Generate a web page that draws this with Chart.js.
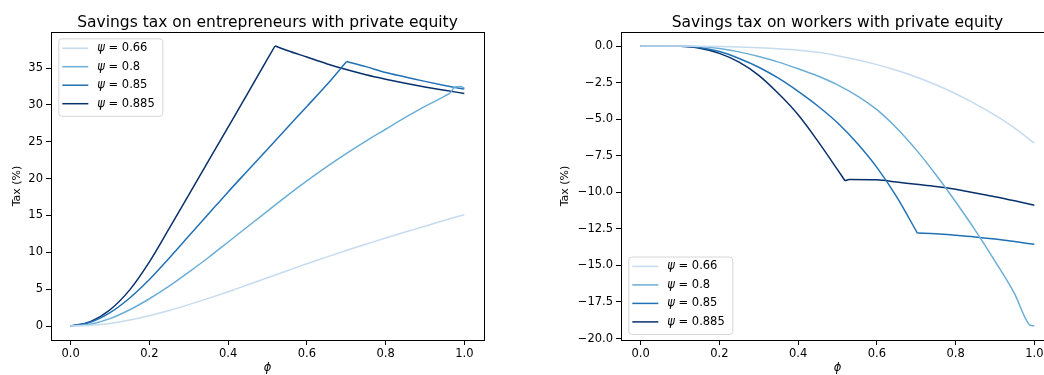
<!DOCTYPE html>
<html><head><meta charset="utf-8">
<script src="https://cdn.jsdelivr.net/npm/chart.js@4.4.0/dist/chart.umd.min.js"></script>
<style>
html,body{margin:0;padding:0;background:#fff;overflow:hidden;width:1044px;height:375px;position:relative;}
canvas{position:absolute;top:0;}
#c1{left:0px} #c2{left:540px}
</style></head><body>
<canvas id="c1" width="522" height="375"></canvas>
<canvas id="c2" width="552" height="375"></canvas>
<script>
// ---- data ----
const PSI = ['0.66', '0.8', '0.85', '0.885'];
const COLORS = ['#c6dbef', '#6baed6', '#2171b5', '#08306b'];
const X_TICKS = [0, 0.2, 0.4, 0.6, 0.8, 1.0];
const Y_TICKS_E = [0, 5, 10, 15, 20, 25, 30, 35];
const Y_TICKS_W = [0, -2.5, -5, -7.5, -10, -12.5, -15, -17.5, -20];
// phi where each series switches regime (null = no switch)
const E_KINK = [null, null, 0.701, 0.519];
const W_KINK = [null, null, 0.703, 0.519];

// entrepreneurs
const E_PHI_066 = [0,0.05,0.1,0.15,0.2,0.25,0.3,0.35,0.4,0.45,0.5,0.55,0.6,0.65,0.7,0.75,0.8,0.85,0.9,0.95,1.0];
const E_TAX_066 = [0,0.1,0.35,0.8,1.4,2.1,2.9,3.75,4.65,5.6,6.55,7.5,8.45,9.35,10.25,11.1,11.95,12.75,13.55,14.35,15.1];
const E_PHI_080 = [0,0.05,0.1,0.15,0.2,0.25,0.3,0.35,0.4,0.45,0.5,0.55,0.6,0.65,0.7,0.75,0.8,0.85,0.9,0.95,0.965,0.975,0.99,1.0];
const E_TAX_080 = [0,0.25,1.0,2.2,3.7,5.4,7.3,9.3,11.4,13.5,15.6,17.7,19.7,21.6,23.4,25.1,26.7,28.3,29.8,31.2,31.7,32.4,32.5,32.3];
const E_PHI_085 = [0,0.05,0.1,0.15,0.2,0.25,0.3,0.35,0.4,0.45,0.5,0.55,0.6,0.65,0.701,0.75,0.8,0.85,0.9,0.95,1.0];
const E_TAX_085 = [0,0.5,1.8,3.8,6.3,9.2,12.2,15.2,18.2,21.1,24.0,26.9,29.8,32.7,35.9,35.2,34.4,33.8,33.2,32.65,32.15];
const E_PHI_0885 = [0,0.05,0.1,0.15,0.2,0.25,0.3,0.35,0.4,0.45,0.519,0.55,0.6,0.65,0.7,0.75,0.8,0.85,0.9,0.95,1.0];
const E_TAX_0885 = [0,0.6,2.2,4.9,8.7,13.2,17.8,22.4,27.0,31.6,38.0,37.4,36.5,35.6,34.8,34.1,33.5,32.95,32.45,32.0,31.56];

// workers
const W_PHI_066 = [0,0.05,0.1,0.15,0.2,0.25,0.3,0.35,0.4,0.45,0.5,0.55,0.6,0.65,0.7,0.75,0.8,0.85,0.9,0.95,1.0];
const W_TAX_066 = [0,0,0,-0.01,-0.03,-0.06,-0.11,-0.18,-0.28,-0.43,-0.66,-0.94,-1.27,-1.66,-2.12,-2.65,-3.26,-3.95,-4.73,-5.61,-6.64];
const W_PHI_080 = [0,0.05,0.1,0.15,0.2,0.25,0.3,0.35,0.4,0.45,0.5,0.55,0.6,0.65,0.7,0.75,0.8,0.85,0.9,0.95,0.98,0.99,1.0];
const W_TAX_080 = [0,0,0,-0.04,-0.17,-0.4,-0.72,-1.1,-1.55,-2.05,-2.65,-3.4,-4.35,-5.6,-7.1,-8.8,-10.65,-12.6,-14.7,-16.95,-18.75,-19.1,-19.12];
const W_PHI_085 = [0,0.05,0.1,0.15,0.2,0.25,0.3,0.35,0.4,0.45,0.5,0.55,0.6,0.65,0.703,0.75,0.8,0.85,0.9,0.95,1.0];
const W_TAX_085 = [0,0,-0.01,-0.1,-0.38,-0.85,-1.45,-2.2,-3.1,-4.1,-5.25,-6.65,-8.3,-10.3,-12.79,-12.83,-12.93,-13.05,-13.2,-13.37,-13.56];
const W_PHI_0885 = [0,0.05,0.1,0.15,0.2,0.25,0.3,0.35,0.4,0.45,0.5,0.519,0.53,0.6,0.65,0.7,0.75,0.8,0.85,0.9,0.95,1.0];
const W_TAX_0885 = [0,0,-0.02,-0.15,-0.5,-1.1,-2.0,-3.25,-4.7,-6.5,-8.45,-9.21,-9.12,-9.15,-9.3,-9.45,-9.6,-9.8,-10.05,-10.3,-10.58,-10.88];

// ---- rendering ----
const FONT = '"DejaVu Sans", "Liberation Sans", sans-serif';
function pts(xs, ys) { return xs.map((x, i) => ({x: x, y: ys[i]})); }
function makeSets(pairs, kinks) {
  const out = [];
  pairs.forEach((p, i) => {
    const all = pts(p[0], p[1]);
    const k = kinks[i];
    const parts = (k === null) ? [all] : [all.filter(d => d.x <= k), all.filter(d => d.x >= k)];
    parts.forEach(seg => out.push({
      label: 'ψ = ' + PSI[i], data: seg,
      borderColor: COLORS[i], backgroundColor: COLORS[i],
      borderWidth: 1.5, pointRadius: 0, cubicInterpolationMode: 'monotone', fill: false,
      borderJoinStyle: 'round'
    }));
  });
  return out;
}
function fmtTick(v) {
  return (v < 0 ? '\u2212' : '') + Math.abs(v).toFixed(1);
}

const decor = {
  id: 'decor',
  afterDraw(chart) {
    const o = chart.options.plugins.decor;
    const ctx = chart.ctx, ca = chart.chartArea;
    ctx.save();
    // frame
    ctx.strokeStyle = '#000'; ctx.lineWidth = 1;
    ctx.strokeRect(Math.round(ca.left) + 0.5, Math.round(ca.top) + 0.5,
      Math.round(ca.right - ca.left), Math.round(ca.bottom - ca.top));
    // title
    ctx.fillStyle = '#000';
    ctx.font = '15.5px ' + FONT;
    ctx.textAlign = 'center'; ctx.textBaseline = 'alphabetic';
    ctx.fillText(o.title, (ca.left + ca.right) / 2, 26.5);
    // x label
    ctx.font = 'italic 11.5px ' + FONT;
    ctx.textBaseline = 'middle';
    ctx.fillText('ϕ', (ca.left + ca.right) / 2, 368.5);
    // y label
    ctx.save();
    ctx.translate(ca.left - o.yLabelOffset, (ca.top + ca.bottom) / 2);
    ctx.rotate(-Math.PI / 2);
    ctx.font = '11px ' + FONT;
    ctx.fillText('Tax (%)', 0, 0);
    ctx.restore();
    // legend
    const bw = 104, bh = 77.5;
    const bx = ca.left + 7.3;
    const by = o.legendTop ? ca.top + 6.3 : ca.bottom - 6 - bh;
    ctx.beginPath();
    if (ctx.roundRect) ctx.roundRect(bx + 0.5, by + 0.5, bw, bh, 3); else ctx.rect(bx + 0.5, by + 0.5, bw, bh);
    ctx.fillStyle = 'rgba(255,255,255,0.8)'; ctx.fill();
    ctx.strokeStyle = '#d6d6d6'; ctx.lineWidth = 1; ctx.stroke();
    ctx.textAlign = 'left'; ctx.textBaseline = 'middle';
    PSI.forEach((psi, i) => {
      const y = by + 9.9 + i * 18.5;
      ctx.strokeStyle = COLORS[i]; ctx.lineWidth = 1.5;
      ctx.beginPath(); ctx.moveTo(bx + 4, y); ctx.lineTo(bx + 30, y); ctx.stroke();
      ctx.fillStyle = '#000';
      ctx.font = 'italic 11.5px ' + FONT;
      ctx.fillText('ψ', bx + 39, y);
      const w = ctx.measureText('ψ').width;
      ctx.font = '11.5px ' + FONT;
      ctx.fillText(' = ' + psi, bx + 39 + w, y);
    });
    ctx.restore();
  }
};

function makeChart(id, sets, yMin, yMax, yTicks, yAxisW, yLabelOffset, title, legendTop) {
  return new Chart(document.getElementById(id), {
    type: 'line',
    data: { datasets: sets },
    plugins: [decor],
    options: {
      responsive: false, animation: false, devicePixelRatio: 1,
      layout: { padding: { left: 0, right: 38, top: 32, bottom: 0 } },
      plugins: { legend: { display: false }, title: { display: false }, tooltip: { enabled: false },
        decor: { title: title, legendTop: legendTop, yLabelOffset: yLabelOffset } },
      scales: {
        x: {
          type: 'linear', min: -0.05, max: 1.05,
          afterBuildTicks: s => { s.ticks = X_TICKS.map(v => ({ value: v })); },
          afterFit: s => { s.height = 35; },
          ticks: { callback: v => fmtTick(v), color: '#000', font: { family: FONT, size: 11.5 }, padding: 2, maxRotation: 0, autoSkip: false },
          grid: { drawOnChartArea: false, drawTicks: true, tickLength: 5, color: '#000', lineWidth: 1 },
          border: { display: false }
        },
        y: {
          type: 'linear', min: yMin, max: yMax,
          afterBuildTicks: s => { s.ticks = yTicks.map(v => ({ value: v })); },
          afterFit: s => { s.width = yAxisW; },
          ticks: { callback: v => (yTicks === Y_TICKS_E) ? String(v) : fmtTick(v), color: '#000', font: { family: FONT, size: 11.5 }, padding: 3, autoSkip: false },
          grid: { drawOnChartArea: false, drawTicks: true, tickLength: 5, color: '#000', lineWidth: 1 },
          border: { display: false }
        }
      }
    }
  });
}

makeChart('c1', makeSets([[E_PHI_066, E_TAX_066], [E_PHI_080, E_TAX_080], [E_PHI_085, E_TAX_085], [E_PHI_0885, E_TAX_0885]], E_KINK),
  -1.9, 39.9, Y_TICKS_E, 51, 34, 'Savings tax on entrepreneurs with private equity', true);
makeChart('c2', makeSets([[W_PHI_066, W_TAX_066], [W_PHI_080, W_TAX_080], [W_PHI_085, W_TAX_085], [W_PHI_0885, W_TAX_0885]], W_KINK),
  -20.1, 0.96, Y_TICKS_W, 81, 56, 'Savings tax on workers with private equity', false);
</script>
</body></html>
